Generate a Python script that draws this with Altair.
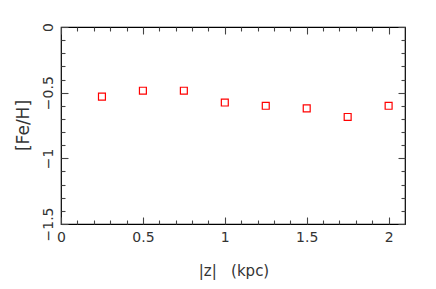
import altair as alt
import pandas as pd

# data
z_kpc = [0.25, 0.5, 0.75, 1.0, 1.25, 1.5, 1.75, 2.0]
fe_h = [-0.53, -0.485, -0.485, -0.575, -0.60, -0.62, -0.685, -0.60]

# tick positions
x_major = [0, 0.5, 1, 1.5, 2]
x_minor = [0.1, 0.2, 0.3, 0.4, 0.6, 0.7, 0.8, 0.9, 1.1, 1.2, 1.3, 1.4,
           1.6, 1.7, 1.8, 1.9]
y_major = [0, -0.5, -1, -1.5]
y_minor = [-0.1, -0.2, -0.3, -0.4, -0.6, -0.7, -0.8, -0.9, -1.1, -1.2,
           -1.3, -1.4]

df = pd.DataFrame({"z": z_kpc, "feh": fe_h})

xs = alt.Scale(domain=[0, 2.1], nice=False, zero=False)
ys = alt.Scale(domain=[-1.5, 0], nice=False, zero=False)

FONT = "DejaVu Sans"
TXT = "#333333"
MAJ = 7
MIN = 4


def tick_axis(orient, values, size, **kw):
    return alt.Axis(orient=orient, values=values, tickSize=size, offset=-size,
                    domain=False, grid=False, tickColor="#444444",
                    tickWidth=1.1, **kw)


def no_label(orient, values, size):
    return tick_axis(orient, values, size, labels=False, title=None)


def layer(x_axis, y_axis, visible):
    return alt.Chart(df).mark_point(
        shape="square", filled=False, color="#ff0000", size=48,
        strokeWidth=1.2, opacity=1 if visible else 0
    ).encode(
        x=alt.X("z:Q", scale=xs, axis=x_axis),
        y=alt.Y("feh:Q", scale=ys, axis=y_axis),
    )


x_main = tick_axis(
    "bottom", x_major, MAJ, format="~g", labelFlush=False, labelPadding=6,
    labelFont=FONT, labelFontSize=14, labelColor=TXT,
    title="|z|\u00a0\u00a0\u00a0(kpc)", titleFont=FONT, titleFontSize=15,
    titleFontWeight="normal", titleColor=TXT, titleX=172.5, titleY=53,
    titleAlign="center", titleBaseline="middle",
)
y_main = tick_axis(
    "left", y_major, MAJ, format="~g", labelFlush=False, labelPadding=6,
    labelAngle=270, labelAlign="center", labelBaseline="bottom",
    labelFont=FONT, labelFontSize=14, labelColor=TXT,
    title="[Fe/H]", titleFont=FONT, titleFontSize=17,
    titleFontWeight="normal", titleColor=TXT, titleAngle=270,
    titleX=-45, titleY=98, titleAlign="center", titleBaseline="middle",
)

chart = alt.layer(
    layer(x_main, y_main, True),
    layer(no_label("bottom", x_minor, MIN), no_label("left", y_minor, MIN), False),
    layer(no_label("top", x_major, MAJ), no_label("right", y_major, MAJ), False),
    layer(no_label("top", x_minor, MIN), no_label("right", y_minor, MIN), False),
).resolve_axis(
    x="independent", y="independent"
).properties(
    width=344, height=197,
    autosize=alt.AutoSizeParams(type="none"),
    padding={"left": 53, "top": 19, "right": 23, "bottom": 57},
).configure_view(
    stroke="#000000", strokeWidth=1.2
)

chart.save("out.html", embed_options={"renderer": "svg", "actions": False})
